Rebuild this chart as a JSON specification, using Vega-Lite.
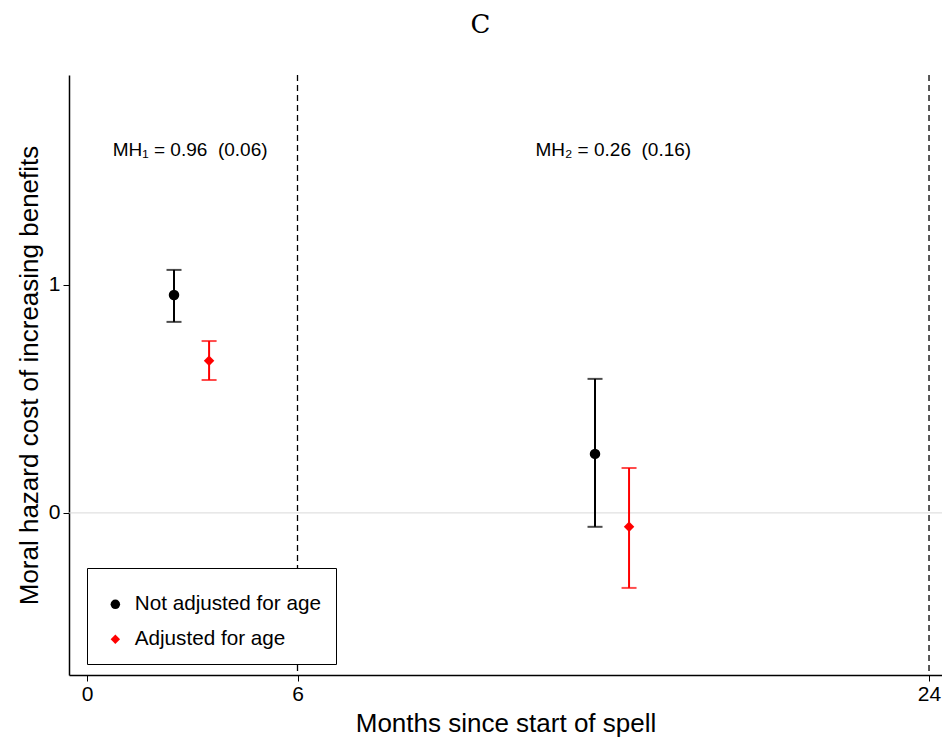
{
  "$schema": "https://vega.github.io/schema/vega-lite/v6.json",
  "width": 873,
  "height": 600,
  "autosize": "none",
  "padding": {"left": 69, "top": 75, "right": 0, "bottom": 63},
  "background": "white",
  "title": {
    "text": "C",
    "font": "DejaVu Serif",
    "fontSize": 26,
    "fontWeight": "normal",
    "color": "black",
    "anchor": "middle",
    "frame": "group",
    "dx": -25,
    "offset": 36
  },
  "config": {
    "view": {"stroke": null},
    "axis": {
      "labelFont": "Liberation Sans",
      "titleFont": "Liberation Sans",
      "labelColor": "black",
      "titleColor": "black",
      "domainColor": "black",
      "tickColor": "black",
      "domainWidth": 1.5,
      "tickWidth": 1,
      "grid": false,
      "titleFontWeight": "normal"
    }
  },
  "datasets": {
    "est": [
      {"series": "Not adjusted for age", "month": 2.48, "value": 0.956, "lo": 0.838, "hi": 1.066},
      {"series": "Adjusted for age", "month": 3.48, "value": 0.667, "lo": 0.583, "hi": 0.754},
      {"series": "Not adjusted for age", "month": 14.48, "value": 0.259, "lo": -0.061, "hi": 0.588},
      {"series": "Adjusted for age", "month": 15.45, "value": -0.061, "lo": -0.329, "hi": 0.197}
    ],
    "vlines": [{"month": 6}, {"month": 24}],
    "hline": [{"value": 0}],
    "notes": [
      {"label": "MH₁ = 0.96\u00a0\u00a0(0.06)", "month": 2.94, "value": 1.59},
      {"label": "MH₂ = 0.26\u00a0\u00a0(0.16)", "month": 15.0, "value": 1.59}
    ]
  },
  "encoding": {
    "x": {
      "field": "month",
      "type": "quantitative",
      "scale": {"domain": [-0.513, 24.37], "nice": false, "zero": false},
      "axis": {
        "values": [0, 6, 24],
        "format": "d",
        "title": "Months since start of spell",
        "titleFontSize": 26,
        "labelFontSize": 21,
        "tickSize": 6,
        "labelPadding": 2,
        "titlePadding": 6
      }
    }
  },
  "layer": [
    {
      "data": {"name": "hline"},
      "mark": {"type": "rule", "color": "#d9d9d9", "strokeWidth": 1},
      "encoding": {
        "x": null,
        "y": {
          "field": "value",
          "type": "quantitative",
          "scale": {"domain": [-0.711, 1.921], "nice": false, "zero": false},
          "axis": {
            "values": [0, 1],
            "format": "d",
            "title": "Moral hazard cost of increasing benefits",
            "titleFontSize": 26,
            "labelFontSize": 21,
            "tickSize": 6,
            "labelPadding": 3,
            "titlePadding": 6
          }
        }
      }
    },
    {
      "data": {"name": "vlines"},
      "mark": {"type": "rule", "color": "black", "strokeWidth": 1.3, "strokeDash": [6, 4]},
      "encoding": {}
    },
    {
      "data": {"name": "est"},
      "transform": [{"filter": "datum.series === 'Not adjusted for age'"}],
      "layer": [
        {
          "mark": {"type": "rule", "strokeWidth": 2, "color": "black"},
          "encoding": {"y": {"field": "lo", "type": "quantitative"}, "y2": {"field": "hi"}}
        },
        {
          "mark": {"type": "tick", "orient": "horizontal", "size": 15, "thickness": 2, "color": "black"},
          "encoding": {"y": {"field": "lo", "type": "quantitative"}}
        },
        {
          "mark": {"type": "tick", "orient": "horizontal", "size": 15, "thickness": 2, "color": "black"},
          "encoding": {"y": {"field": "hi", "type": "quantitative"}}
        }
      ]
    },
    {
      "data": {"name": "est"},
      "transform": [{"filter": "datum.series === 'Adjusted for age'"}],
      "layer": [
        {
          "mark": {"type": "rule", "strokeWidth": 2, "color": "#ff0000"},
          "encoding": {"y": {"field": "lo", "type": "quantitative"}, "y2": {"field": "hi"}}
        },
        {
          "mark": {"type": "tick", "orient": "horizontal", "size": 15, "thickness": 2, "color": "#ff0000"},
          "encoding": {"y": {"field": "lo", "type": "quantitative"}}
        },
        {
          "mark": {"type": "tick", "orient": "horizontal", "size": 15, "thickness": 2, "color": "#ff0000"},
          "encoding": {"y": {"field": "hi", "type": "quantitative"}}
        }
      ]
    },
    {
      "data": {"name": "est"},
      "mark": {"type": "point", "filled": true, "opacity": 1, "size": 110},
      "encoding": {
        "y": {"field": "value", "type": "quantitative"},
        "color": {
          "field": "series",
          "type": "nominal",
          "scale": {"domain": ["Not adjusted for age", "Adjusted for age"], "range": ["black", "#ff0000"]},
          "legend": {
            "title": "\u00a0",
            "titleFontSize": 8,
            "titlePadding": 4,
            "orient": "none",
            "legendX": 18,
            "legendY": 493,
            "strokeColor": "black",
            "fillColor": "white",
            "padding": 14,
            "labelFont": "Liberation Sans",
            "labelFontSize": 20.7,
            "labelColor": "black",
            "labelLimit": 400,
            "symbolSize": 90,
            "symbolOffset": 4,
            "labelOffset": 9,
            "rowPadding": 13,
            "offset": 0
          }
        },
        "shape": {
          "field": "series",
          "type": "nominal",
          "scale": {"domain": ["Not adjusted for age", "Adjusted for age"], "range": ["circle", "diamond"]}
        }
      }
    },
    {
      "data": {"name": "notes"},
      "mark": {"type": "text", "font": "Liberation Sans", "fontSize": 19, "color": "black", "align": "center", "baseline": "middle"},
      "encoding": {
        "y": {"field": "value", "type": "quantitative"},
        "text": {"field": "label"}
      }
    }
  ]
}
